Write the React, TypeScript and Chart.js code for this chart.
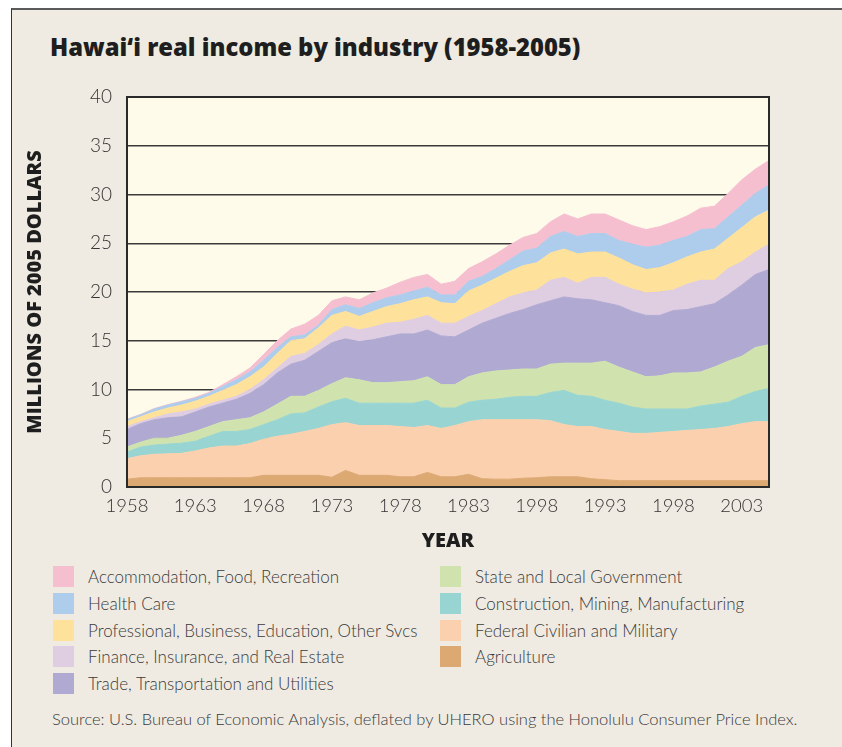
import React, { useEffect, useRef } from "react";
import { Chart, registerables } from "chart.js";

Chart.register(...registerables);

const years = [
  "1958", "1959", "1960", "1961", "1962", "1963", "1964", "1965", "1966", "1967",
  "1968", "1969", "1970", "1971", "1972", "1973", "1974", "1975", "1976", "1977",
  "1978", "1979", "1980", "1981", "1982", "1983", "1984", "1985", "1986", "1987",
  "1988", "1989", "1990", "1991", "1992", "1993", "1994", "1995", "1996", "1997",
  "1998", "1999", "2000", "2001", "2002", "2003", "2004", "2005",
];

// tick years and the labels printed under them (as printed in the original)
const tickYears = ["1958", "1963", "1968", "1973", "1978", "1983", "1988", "1993", "1998", "2003"];
const tickLabels = ["1958", "1963", "1968", "1973", "1978", "1983", "1998", "1993", "1998", "2003"];

// Series values, millions of 2005 dollars (bottom of the stack first)
const agriculture = [0.8, 0.95, 0.95, 0.95, 0.95, 0.95, 0.95, 0.95, 0.95, 0.95, 1.2, 1.2, 1.2, 1.2, 1.2, 1.0, 1.7, 1.2, 1.2, 1.2, 1.05, 1.05, 1.5, 1.05, 1.05, 1.3, 0.85, 0.8, 0.8, 0.9, 0.95, 1.05, 1.05, 1.05, 0.85, 0.75, 0.65, 0.65, 0.65, 0.65, 0.65, 0.65, 0.65, 0.65, 0.65, 0.65, 0.65, 0.65];
const federal = [2.1, 2.25, 2.4, 2.45, 2.5, 2.75, 3.05, 3.25, 3.25, 3.5, 3.7, 4.0, 4.2, 4.5, 4.8, 5.4, 4.9, 5.1, 5.1, 5.1, 5.15, 5.05, 4.8, 4.95, 5.25, 5.4, 6.05, 6.1, 6.1, 6.0, 5.95, 5.75, 5.35, 5.15, 5.35, 5.15, 5.05, 4.85, 4.85, 4.95, 5.05, 5.15, 5.25, 5.35, 5.55, 5.85, 6.05, 6.05];
const construction = [0.7, 0.9, 0.95, 1.0, 1.05, 1.0, 1.2, 1.5, 1.5, 1.45, 1.5, 1.7, 2.1, 1.9, 2.2, 2.35, 2.5, 2.3, 2.3, 2.3, 2.4, 2.5, 2.6, 2.1, 1.8, 2.0, 2.0, 2.1, 2.3, 2.4, 2.4, 2.9, 3.5, 3.2, 3.1, 3.0, 2.9, 2.7, 2.5, 2.4, 2.3, 2.2, 2.4, 2.5, 2.5, 2.8, 3.1, 3.4];
const stateLocal = [0.5, 0.5, 0.7, 0.6, 0.8, 1.0, 1.0, 1.0, 1.2, 1.2, 1.3, 1.6, 1.8, 1.7, 1.7, 1.85, 2.1, 2.4, 2.1, 2.1, 2.2, 2.3, 2.4, 2.4, 2.4, 2.6, 2.8, 2.9, 2.8, 2.8, 2.8, 2.9, 2.8, 3.3, 3.4, 4.0, 3.7, 3.6, 3.3, 3.4, 3.7, 3.7, 3.5, 3.8, 4.2, 4.1, 4.5, 4.5];
const trade = [1.8, 1.9, 1.9, 2.1, 1.9, 2.0, 2.0, 1.9, 2.1, 2.5, 2.8, 3.2, 3.3, 3.7, 4.0, 4.2, 4.0, 3.9, 4.4, 4.7, 4.9, 4.8, 4.8, 5.0, 4.9, 4.8, 5.1, 5.4, 5.8, 6.1, 6.6, 6.5, 6.8, 6.6, 6.5, 6.0, 6.3, 6.2, 6.3, 6.2, 6.4, 6.5, 6.7, 6.5, 6.8, 7.3, 7.5, 7.7];
const finance = [0.3, 0.2, 0.2, 0.4, 0.5, 0.3, 0.3, 0.3, 0.3, 0.4, 0.5, 0.5, 0.8, 0.7, 0.7, 0.9, 1.3, 1.2, 1.3, 1.4, 1.2, 1.5, 1.5, 1.3, 1.4, 1.4, 1.3, 1.5, 1.7, 1.7, 1.5, 2.1, 2.0, 1.6, 2.3, 2.6, 2.2, 2.3, 2.3, 2.4, 2.1, 2.6, 2.7, 2.4, 2.7, 2.4, 2.3, 2.6];
const professional = [0.5, 0.5, 0.6, 0.6, 0.7, 0.8, 0.8, 1.0, 1.2, 1.3, 1.3, 1.5, 1.6, 1.5, 1.7, 1.9, 1.5, 1.4, 1.6, 1.7, 1.9, 2.0, 1.9, 2.1, 2.0, 2.6, 2.6, 2.6, 2.6, 2.8, 2.8, 2.8, 2.9, 3.0, 2.6, 2.6, 2.7, 2.5, 2.4, 2.5, 2.8, 2.8, 2.9, 3.2, 3.1, 3.5, 3.6, 3.5];
const healthCare = [0.2, 0.2, 0.3, 0.3, 0.35, 0.3, 0.3, 0.4, 0.5, 0.5, 0.7, 0.6, 0.4, 0.4, 0.3, 0.6, 0.7, 0.8, 0.9, 0.9, 0.9, 0.9, 1.0, 0.8, 0.9, 1.0, 0.9, 1.0, 1.2, 1.5, 1.5, 1.7, 1.8, 1.8, 1.9, 1.9, 1.8, 2.1, 2.3, 2.3, 2.3, 2.1, 2.3, 2.1, 2.2, 2.3, 2.4, 2.6];
const accommodation = [0.05, 0.05, 0.05, 0.05, 0.05, 0.1, 0.1, 0.2, 0.3, 0.4, 0.6, 0.7, 0.8, 1.1, 1.0, 0.9, 0.8, 0.9, 1.0, 1.0, 1.3, 1.4, 1.3, 1.1, 1.4, 1.3, 1.5, 1.5, 1.5, 1.4, 1.5, 1.5, 1.8, 1.8, 2.0, 2.0, 2.1, 1.9, 1.8, 1.9, 1.9, 2.1, 2.2, 2.3, 2.4, 2.6, 2.5, 2.5];

const seriesNames = [
  "Agriculture",
  "Federal Civilian and Military",
  "Construction, Mining, Manufacturing",
  "State and Local Government",
  "Trade, Transportation and Utilities",
  "Finance, Insurance, and Real Estate",
  "Professional, Business, Education, Other Svcs",
  "Health Care",
  "Accommodation, Food, Recreation",
];
const seriesValues = [agriculture, federal, construction, stateLocal, trade, finance, professional, healthCare, accommodation];
const seriesColors = ["#DDA973", "#FAD0AE", "#98D5D2", "#D0E3AF", "#B0AAD3", "#DFCDE2", "#FEE19A", "#AECDEC", "#F6BFD0"];

const yTicks = [0, 5, 10, 15, 20, 25, 30, 35, 40];

const FONT = "Lato, 'Open Sans', sans-serif";
const BOLD_FONT = "'Open Sans', Lato, sans-serif";

const plotDecor = {
  id: "plotDecor",
  beforeDraw(chart: any) {
    const { ctx, chartArea } = chart;
    ctx.save();
    ctx.fillStyle = "#FFFBEA";
    ctx.fillRect(chartArea.left, chartArea.top, chartArea.right - chartArea.left, chartArea.bottom - chartArea.top);
    ctx.restore();
  },
  afterDraw(chart: any) {
    const { ctx, chartArea } = chart;
    ctx.save();
    ctx.strokeStyle = "#2a2a2a";
    ctx.lineWidth = 2;
    ctx.strokeRect(chartArea.left, chartArea.top, chartArea.right - chartArea.left, chartArea.bottom - chartArea.top);
    ctx.restore();
  },
};

function StackChart() {
  const ref = useRef<HTMLCanvasElement | null>(null);
  useEffect(() => {
    if (!ref.current) return;
    const chart = new Chart(ref.current, {
      type: "line",
      data: {
        labels: years,
        datasets: seriesNames.map((name, i) => ({
          label: name,
          data: seriesValues[i],
          backgroundColor: seriesColors[i],
          borderColor: seriesColors[i],
          borderWidth: 1,
          pointRadius: 0,
          pointHoverRadius: 0,
          tension: 0,
          fill: i === 0 ? "origin" : "-1",
        })),
      },
      options: {
        animation: false,
        responsive: false,
        maintainAspectRatio: false,
        events: [],
        layout: { padding: { top: 17, right: 73, left: 0, bottom: 0 } },
        plugins: {
          legend: { display: false },
          tooltip: { enabled: false },
          title: { display: false },
        },
        scales: {
          x: {
            type: "category",
            offset: false,
            grid: { display: false, drawTicks: false },
            border: { display: false },
            afterFit: (scale: any) => {
              scale.height = 66;
            },
            ticks: {
              autoSkip: false,
              maxRotation: 0,
              minRotation: 0,
              padding: 8,
              color: "#333",
              font: { family: FONT, size: 18.5, weight: "300" },
              callback: (_v: any, idx: number) => {
                const k = tickYears.indexOf(years[idx]);
                return k >= 0 ? tickLabels[k] : null;
              },
            },
            title: {
              display: true,
              text: "YEAR",
              color: "#1e1e1e",
              font: { family: BOLD_FONT, size: 20, weight: "800" },
              padding: { top: 0, bottom: 0 },
            },
          },
          y: {
            stacked: true,
            min: 0,
            max: 40,
            afterFit: (scale: any) => {
              scale.width = 116;
              scale.paddingTop = 0;
              scale.paddingBottom = 0;
            },
            afterBuildTicks: (scale: any) => {
              scale.ticks = yTicks.map((v) => ({ value: v }));
            },
            grid: { color: "#3a3a3a", lineWidth: 1.5, drawTicks: false },
            border: { display: false },
            ticks: {
              padding: 15,
              color: "#333",
              font: { family: FONT, size: 19, weight: "300" },
            },
            title: {
              display: true,
              text: "MILLIONS OF 2005 DOLLARS",
              color: "#1e1e1e",
              font: { family: BOLD_FONT, size: 20, weight: "800" },
              padding: { top: 12, bottom: 0 },
            },
          },
        },
      },
      plugins: [plotDecor],
    } as any);
    return () => chart.destroy();
  }, []);
  return (
    <canvas
      ref={ref}
      width={831}
      height={473}
      style={{ position: "absolute", left: 11, top: 80, width: 831, height: 473 }}
    />
  );
}

export default function App() {
  const legendOrder = seriesNames.map((n, i) => ({ name: n, color: seriesColors[i] })).reverse();
  const col1 = legendOrder.slice(0, 5);
  const col2 = legendOrder.slice(5);
  const rowTop = 566;
  const rowGap = 26.8;
  const legendItem = (item: { name: string; color: string }, left: number, row: number) => (
    <div
      key={item.name}
      style={{
        position: "absolute",
        left,
        top: rowTop + row * rowGap,
        height: 21,
        display: "flex",
        alignItems: "center",
        whiteSpace: "nowrap",
      }}
    >
      <div style={{ width: 21, height: 21, background: item.color, marginRight: 14 }} />
      <span style={{ fontFamily: FONT, fontWeight: 300, fontSize: 17, lineHeight: 1, color: "#3a3a3a" }}>
        {item.name}
      </span>
    </div>
  );
  return (
    <div style={{ position: "fixed", left: 0, top: 0, right: 0, bottom: 0, background: "#ffffff", overflow: "hidden" }}>
      <div
        style={{
          position: "absolute",
          left: 11,
          top: 8,
          width: 831,
          height: 739,
          boxSizing: "border-box",
          background: "#EFEBE2",
          borderTop: "2px solid #5a5a5a",
          borderLeft: "1px solid #333",
        }}
      />
      <div
        style={{
          position: "absolute",
          left: 50,
          top: 36,
          fontFamily: BOLD_FONT,
          fontWeight: 800,
          fontSize: 23.8,
          lineHeight: 1,
          color: "#1e1e1e",
          whiteSpace: "nowrap",
        }}
      >
        Hawai‘i real income by industry (1958-2005)
      </div>
      <StackChart />
      {col1.map((it, r) => legendItem(it, 53, r))}
      {col2.map((it, r) => legendItem(it, 440, r))}
      <div
        style={{
          position: "absolute",
          left: 52,
          top: 711,
          fontFamily: FONT,
          fontWeight: 300,
          fontSize: 16.5,
          lineHeight: 1,
          color: "#3a3a3a",
          whiteSpace: "nowrap",
        }}
      >
        Source: U.S. Bureau of Economic Analysis, deflated by UHERO using the Honolulu Consumer Price Index.
      </div>
    </div>
  );
}
